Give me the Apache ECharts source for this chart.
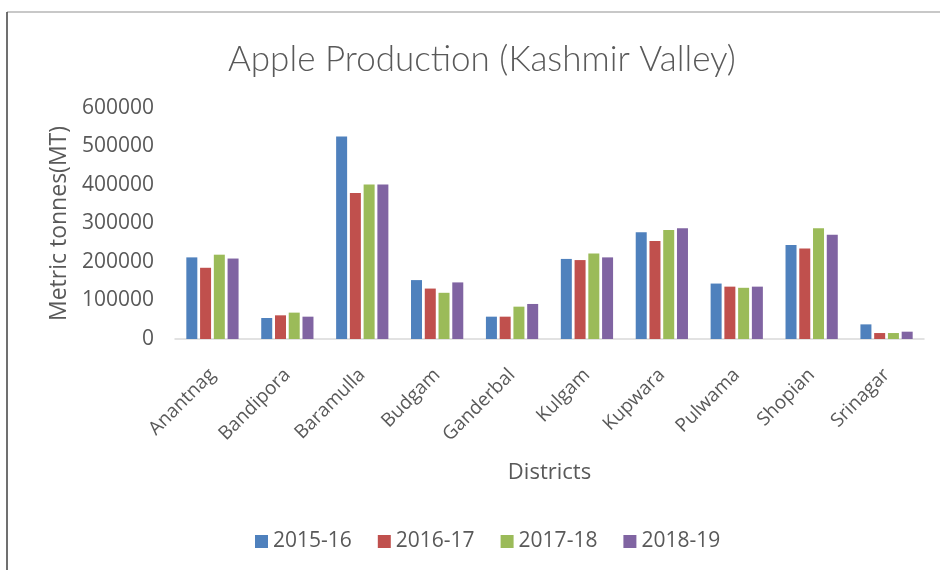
<!DOCTYPE html>
<html>
<head>
<meta charset="utf-8">
<script src="https://cdn.jsdelivr.net/npm/echarts@6/dist/echarts.min.js"></script>
<style>
  html, body { margin: 0; padding: 0; background: #fff; }
  #apple { width: 940px; height: 570px; }
</style>
</head>
<body>
<div id="apple"></div>
<script>
const districts = ["Anantnag", "Bandipora", "Baramulla", "Budgam", "Ganderbal", "Kulgam", "Kupwara", "Pulwama", "Shopian", "Srinagar"];
const years = ["2015-16", "2016-17", "2017-18", "2018-19"];
const prod1516 = [212000, 54500, 526000, 153000, 58000, 208000, 277000, 144000, 244000, 38000];
const prod1617 = [185000, 61500, 379000, 131000, 58000, 205000, 254500, 136000, 235000, 15500];
const prod1718 = [219000, 68500, 401000, 120000, 84000, 222000, 283000, 133000, 287500, 15500];
const prod1819 = [209000, 58000, 401000, 147000, 91000, 212000, 287500, 136000, 271000, 19000];
const colors = ["#4F81BD", "#C0504D", "#9BBB59", "#8064A2"];

const font = "Open Sans";
const textColor = "#595959";

const seriesData = [prod1516, prod1617, prod1718, prod1819];

const option = {
  animation: false,
  color: colors,
  title: {
    text: "Apple Production (Kashmir Valley)",
    left: 223,
    top: 37,
    textStyle: {
      fontFamily: "Lato",
      fontWeight: 300,
      fontSize: 35,
      color: textColor,
    },
  },
  grid: {
    left: 175,
    right: 16,
    top: 108,
    bottom: 231,
  },
  legend: {
    left: 250,
    top: 526,
    itemWidth: 13,
    itemHeight: 13,
    itemGap: 26,
    icon: "rect",
    textStyle: {
      fontFamily: font,
      fontSize: 21,
      color: textColor,
    },
    data: years,
  },
  xAxis: {
    type: "category",
    data: districts,
    name: "Districts",
    nameLocation: "middle",
    nameGap: 123,
    nameTextStyle: {
      fontFamily: font,
      fontSize: 22,
      color: textColor,
    },
    axisLine: { lineStyle: { color: "#d9d9d9", width: 1.5 } },
    axisTick: { show: false },
    axisLabel: {
      interval: 0,
      rotate: 45,
      margin: 33,
      fontFamily: font,
      fontSize: 19,
      color: textColor,
    },
  },
  yAxis: {
    type: "value",
    min: 0,
    max: 600000,
    interval: 100000,
    name: "Metric tonnes(MT)",
    nameLocation: "middle",
    nameGap: 100,
    nameTextStyle: {
      fontFamily: font,
      fontSize: 23,
      color: textColor,
    },
    splitLine: { show: false },
    axisLine: { show: false },
    axisTick: { show: false },
    axisLabel: {
      margin: 21,
      fontFamily: font,
      fontSize: 21,
      color: textColor,
      formatter: (v) => {
        return String(v);
      },
    },
  },
  graphic: [
    {
      type: "line",
      shape: { x1: 7, y1: 12, x2: 940, y2: 12 },
      style: { stroke: "#c8c8c8", lineWidth: 2 },
    },
    {
      type: "line",
      shape: { x1: 7, y1: 12, x2: 7, y2: 570 },
      style: { stroke: "#404040", lineWidth: 1.5 },
    },
  ],
  series: years.map((y, i) => {
    return {
      name: y,
      type: "bar",
      barWidth: 11,
      barGap: "25%",
      data: seriesData[i],
    };
  }),
};

const chart = echarts.init(document.getElementById("apple"));
chart.setOption(option);
</script>
</body>
</html>
